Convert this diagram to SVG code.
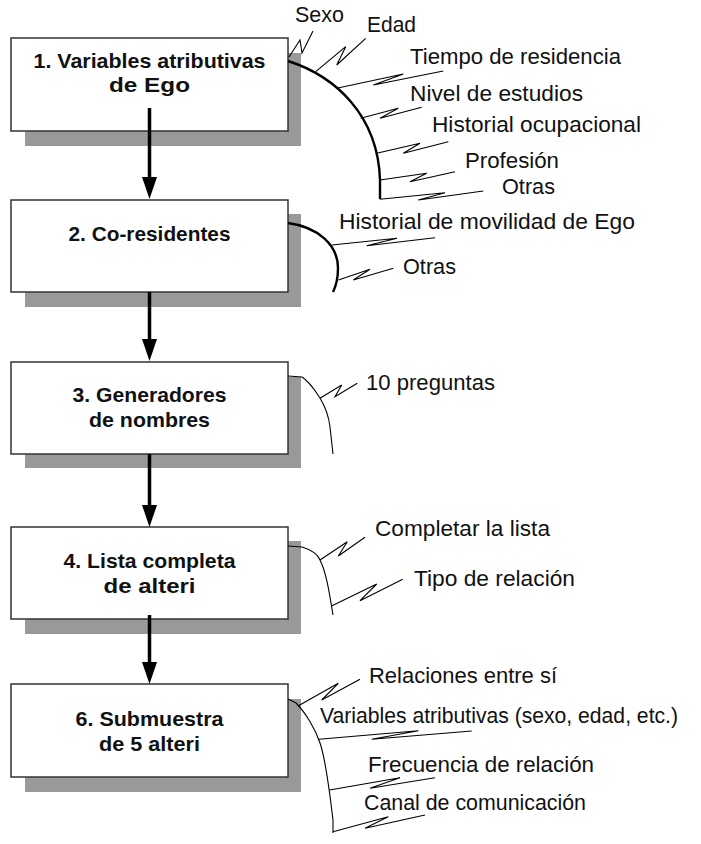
<svg xmlns="http://www.w3.org/2000/svg" width="701" height="844" viewBox="0 0 701 844">
<style>
.shadow{fill:#999999;stroke:none}
.box{fill:#ffffff;stroke:#333333;stroke-width:1.5}
.bt{font-family:"Liberation Sans",Arial,sans-serif;font-weight:bold;font-size:21px;fill:#111111;text-anchor:middle}
.lt{font-family:"Liberation Sans",Arial,sans-serif;font-size:22px;fill:#111111}
.arrow{stroke:#000000;stroke-width:3.5;fill:none;marker-end:url(#ah)}
.thick{stroke:#000000;stroke-width:2.4;fill:none}
.thin{stroke:#000000;stroke-width:1.1;fill:none}
.zig{stroke:#000000;stroke-width:1.1;fill:none;stroke-linejoin:miter}
</style>
<defs>
<marker id="ah" markerWidth="22" markerHeight="16" refX="12" refY="8" orient="auto" markerUnits="userSpaceOnUse">
<path d="M0,0.5 L22,8 L0,15.5 z" fill="#000000"/>
</marker>
</defs>

<g id="node1">
<rect class="shadow" x="25" y="53" width="276" height="93"/>
<rect class="box" x="11" y="38" width="277" height="93"/>
<text class="bt" x="149.5" y="68" textLength="232" lengthAdjust="spacingAndGlyphs">1. Variables atributivas</text>
<text class="bt" x="149.5" y="92" textLength="81" lengthAdjust="spacingAndGlyphs">de Ego</text>
</g>

<g id="node2">
<rect class="shadow" x="25" y="214" width="276" height="93"/>
<rect class="box" x="11" y="200" width="277" height="92"/>
<text class="bt" x="149.5" y="241" textLength="162" lengthAdjust="spacingAndGlyphs">2. Co-residentes</text>
</g>

<g id="node3">
<rect class="shadow" x="25" y="377" width="276" height="91"/>
<rect class="box" x="11" y="362" width="277" height="92"/>
<text class="bt" x="149.5" y="402" textLength="154" lengthAdjust="spacingAndGlyphs">3. Generadores</text>
<text class="bt" x="149.5" y="427" textLength="121" lengthAdjust="spacingAndGlyphs">de nombres</text>
</g>

<g id="node4">
<rect class="shadow" x="25" y="541" width="276" height="93"/>
<rect class="box" x="11" y="527" width="277" height="92"/>
<text class="bt" x="149.5" y="568" textLength="172" lengthAdjust="spacingAndGlyphs">4. Lista completa</text>
<text class="bt" x="149.5" y="593" textLength="92" lengthAdjust="spacingAndGlyphs">de alteri</text>
</g>

<g id="node6">
<rect class="shadow" x="25" y="699" width="276" height="93"/>
<rect class="box" x="11" y="684" width="277" height="93"/>
<text class="bt" x="149.5" y="726" textLength="148" lengthAdjust="spacingAndGlyphs">6. Submuestra</text>
<text class="bt" x="149.5" y="751" textLength="101" lengthAdjust="spacingAndGlyphs">de 5 alteri</text>
</g>

<g id="connectors">
<line class="arrow" x1="149.5" y1="108" x2="149.5" y2="189"/>
<line class="arrow" x1="149.5" y1="292" x2="149.5" y2="351"/>
<line class="arrow" x1="149.5" y1="454" x2="149.5" y2="517"/>
<line class="arrow" x1="149.5" y1="615" x2="149.5" y2="674"/>
</g>

<g id="attributes1">
<path class="thick" d="M288,61 C335,76 378,115 380,180 L380,199"/>
<path class="zig" d="M289,57 L300,40 L302,53 L313,31"/>
<path class="zig" d="M315.7,71.7 L345.7,46.7 L336.7,65 L365.7,38.3"/>
<path class="zig" d="M336.7,88.3 L403.3,74 L373.3,85 L443.3,71"/>
<path class="zig" d="M360.7,118.3 L398.3,108.3 L380,118.3 L421.7,107.3"/>
<path class="zig" d="M376.7,153.3 L420,143.3 L403.3,153.3 L448.3,141.7"/>
<path class="zig" d="M380,180 L426.7,173.3 L410,181.7 L455,171.7"/>
<path class="zig" d="M380,199.3 L445,192.7 L418.3,200 L483.3,191"/>
<text class="lt" x="295" y="22" textLength="49" lengthAdjust="spacingAndGlyphs">Sexo</text>
<text class="lt" x="367" y="32" textLength="49" lengthAdjust="spacingAndGlyphs">Edad</text>
<text class="lt" x="410" y="64" textLength="211" lengthAdjust="spacingAndGlyphs">Tiempo de residencia</text>
<text class="lt" x="410" y="101" textLength="173" lengthAdjust="spacingAndGlyphs">Nivel de estudios</text>
<text class="lt" x="432" y="132" textLength="209" lengthAdjust="spacingAndGlyphs">Historial ocupacional</text>
<text class="lt" x="465" y="168" textLength="94" lengthAdjust="spacingAndGlyphs">Profesión</text>
<text class="lt" x="502" y="194" textLength="53" lengthAdjust="spacingAndGlyphs">Otras</text>
</g>

<g id="attributes2">
<path class="thick" d="M288,223 C318,227 338,245 338,268 C338,280 336,286 333,292"/>
<path class="zig" d="M331.7,245 L397,238.3 L366.7,245.7 L435,237.7"/>
<path class="zig" d="M338.5,280 L370,269.3 L353.3,280 L393.3,268.3"/>
<text class="lt" x="339" y="229" textLength="296" lengthAdjust="spacingAndGlyphs">Historial de movilidad de Ego</text>
<text class="lt" x="403" y="274" textLength="53" lengthAdjust="spacingAndGlyphs">Otras</text>
</g>

<g id="attributes3">
<path class="thin" d="M288,376 L302,377 C310,382 316,392 320,398 C326,408 329,418 330,427 L333,454"/>
<path class="zig" d="M320,398.3 L341.7,385 L335,396.7 L357.3,383.3"/>
<text class="lt" x="366" y="390" textLength="129" lengthAdjust="spacingAndGlyphs">10 preguntas</text>
</g>

<g id="attributes4">
<path class="thin" d="M288,546 L302,547 C312,550 318,555 320,560 C326,572 329,590 333,615"/>
<path class="zig" d="M320,560 L347.3,541.7 L338.3,556 L365,537.3"/>
<path class="zig" d="M331.5,606 L376.7,584 L360,600.7 L402.7,579.3"/>
<text class="lt" x="375" y="536" textLength="175" lengthAdjust="spacingAndGlyphs">Completar la lista</text>
<text class="lt" x="414" y="586" textLength="161" lengthAdjust="spacingAndGlyphs">Tipo de relación</text>
</g>

<g id="attributes6">
<path class="thin" d="M288,699 L296,703 C305,712 315,728 320,743 C326,760 330,795 333,820 L333,833"/>
<path class="zig" d="M298,706 L338.3,683.3 L321.7,700 L360,679.3"/>
<path class="zig" d="M319,739.3 L418.3,730.7 L371.7,739.3 L471.7,731"/>
<path class="zig" d="M329.5,790 L400,777.7 L370,788.3 L435,777.7"/>
<path class="zig" d="M333,831.7 L388.3,816.7 L365,828.3 L425,815"/>
<text class="lt" x="369" y="683" textLength="188" lengthAdjust="spacingAndGlyphs">Relaciones entre sí</text>
<text class="lt" x="320" y="723" textLength="358" lengthAdjust="spacingAndGlyphs">Variables atributivas (sexo, edad, etc.)</text>
<text class="lt" x="368" y="772" textLength="226" lengthAdjust="spacingAndGlyphs">Frecuencia de relación</text>
<text class="lt" x="364" y="810" textLength="222" lengthAdjust="spacingAndGlyphs">Canal de comunicación</text>
</g>
</svg>
